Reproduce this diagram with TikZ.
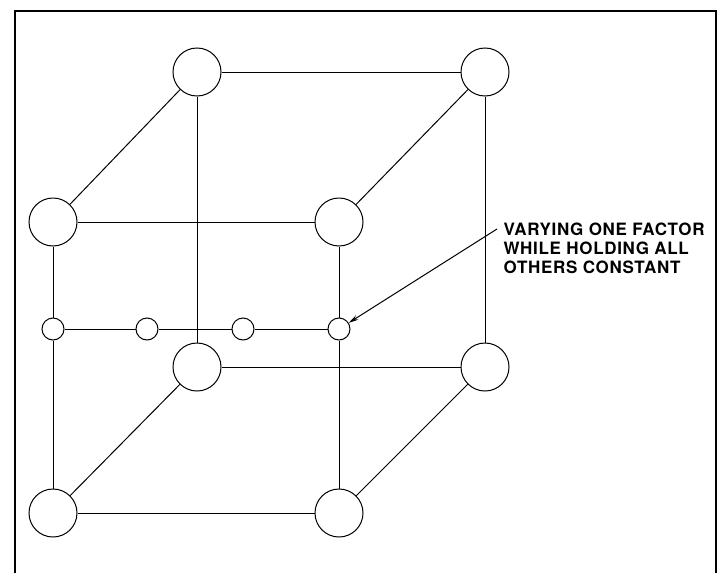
\documentclass[tikz,border=0pt]{standalone}
\usepackage{fontspec}
\setsansfont{TeX Gyre Heros}[LetterSpace=4]
\usetikzlibrary{arrows.meta}
\begin{document}
\begin{tikzpicture}[x=1pt, y=-1pt, line width=1pt, >={Stealth[length=10pt,width=5pt]},
    big/.style={circle, draw, minimum size=48pt, inner sep=0pt},
    small/.style={circle, draw, minimum size=22pt, inner sep=0pt}]
    \useasboundingbox (0,0) rectangle (720,573);
    \draw[line width=2.6pt] (15,573) -- (15,11) -- (716,11) -- (716,573);

    % back face
    \node[big] (btl) at (197,72) {};
    \node[big] (btr) at (485,72) {};
    \node[big] (bbl) at (197,367) {};
    \node[big] (bbr) at (485,367) {};
    % front face
    \node[big] (ftl) at (53,222) {};
    \node[big] (ftr) at (339,222) {};
    \node[big] (fbl) at (53,513) {};
    \node[big] (fbr) at (339,513) {};
    % one factor varied
    \node[small] (s1) at (53,329) {};
    \node[small] (s2) at (147,329) {};
    \node[small] (s3) at (243,329) {};
    \node[small] (s4) at (339,329) {};

    \draw (btl) -- (btr);
    \draw (ftl) -- (ftr);
    \draw (bbl) -- (bbr);
    \draw (fbl) -- (fbr);
    \draw (ftl) -- (btl);
    \draw (ftr) -- (btr);
    \draw (fbl) -- (bbl);
    \draw (fbr) -- (bbr);
    \draw (btl) -- (bbl);
    \draw (btr) -- (bbr);
    \draw (ftl) -- (s1) -- (fbl);
    \draw (ftr) -- (s4) -- (fbr);
    \draw (s1) -- (s2) -- (s3) -- (s4);

    \node[anchor=north west, inner sep=0pt, align=left,
          font=\sffamily\bfseries\fontsize{17}{19}\selectfont] (note) at (503,222)
        {VARYING ONE FACTOR\\WHILE HOLDING ALL\\OTHERS CONSTANT};
    \coordinate (lead) at (497,229);
    \draw[->] (lead) -- (s4);
\end{tikzpicture}
\end{document}
